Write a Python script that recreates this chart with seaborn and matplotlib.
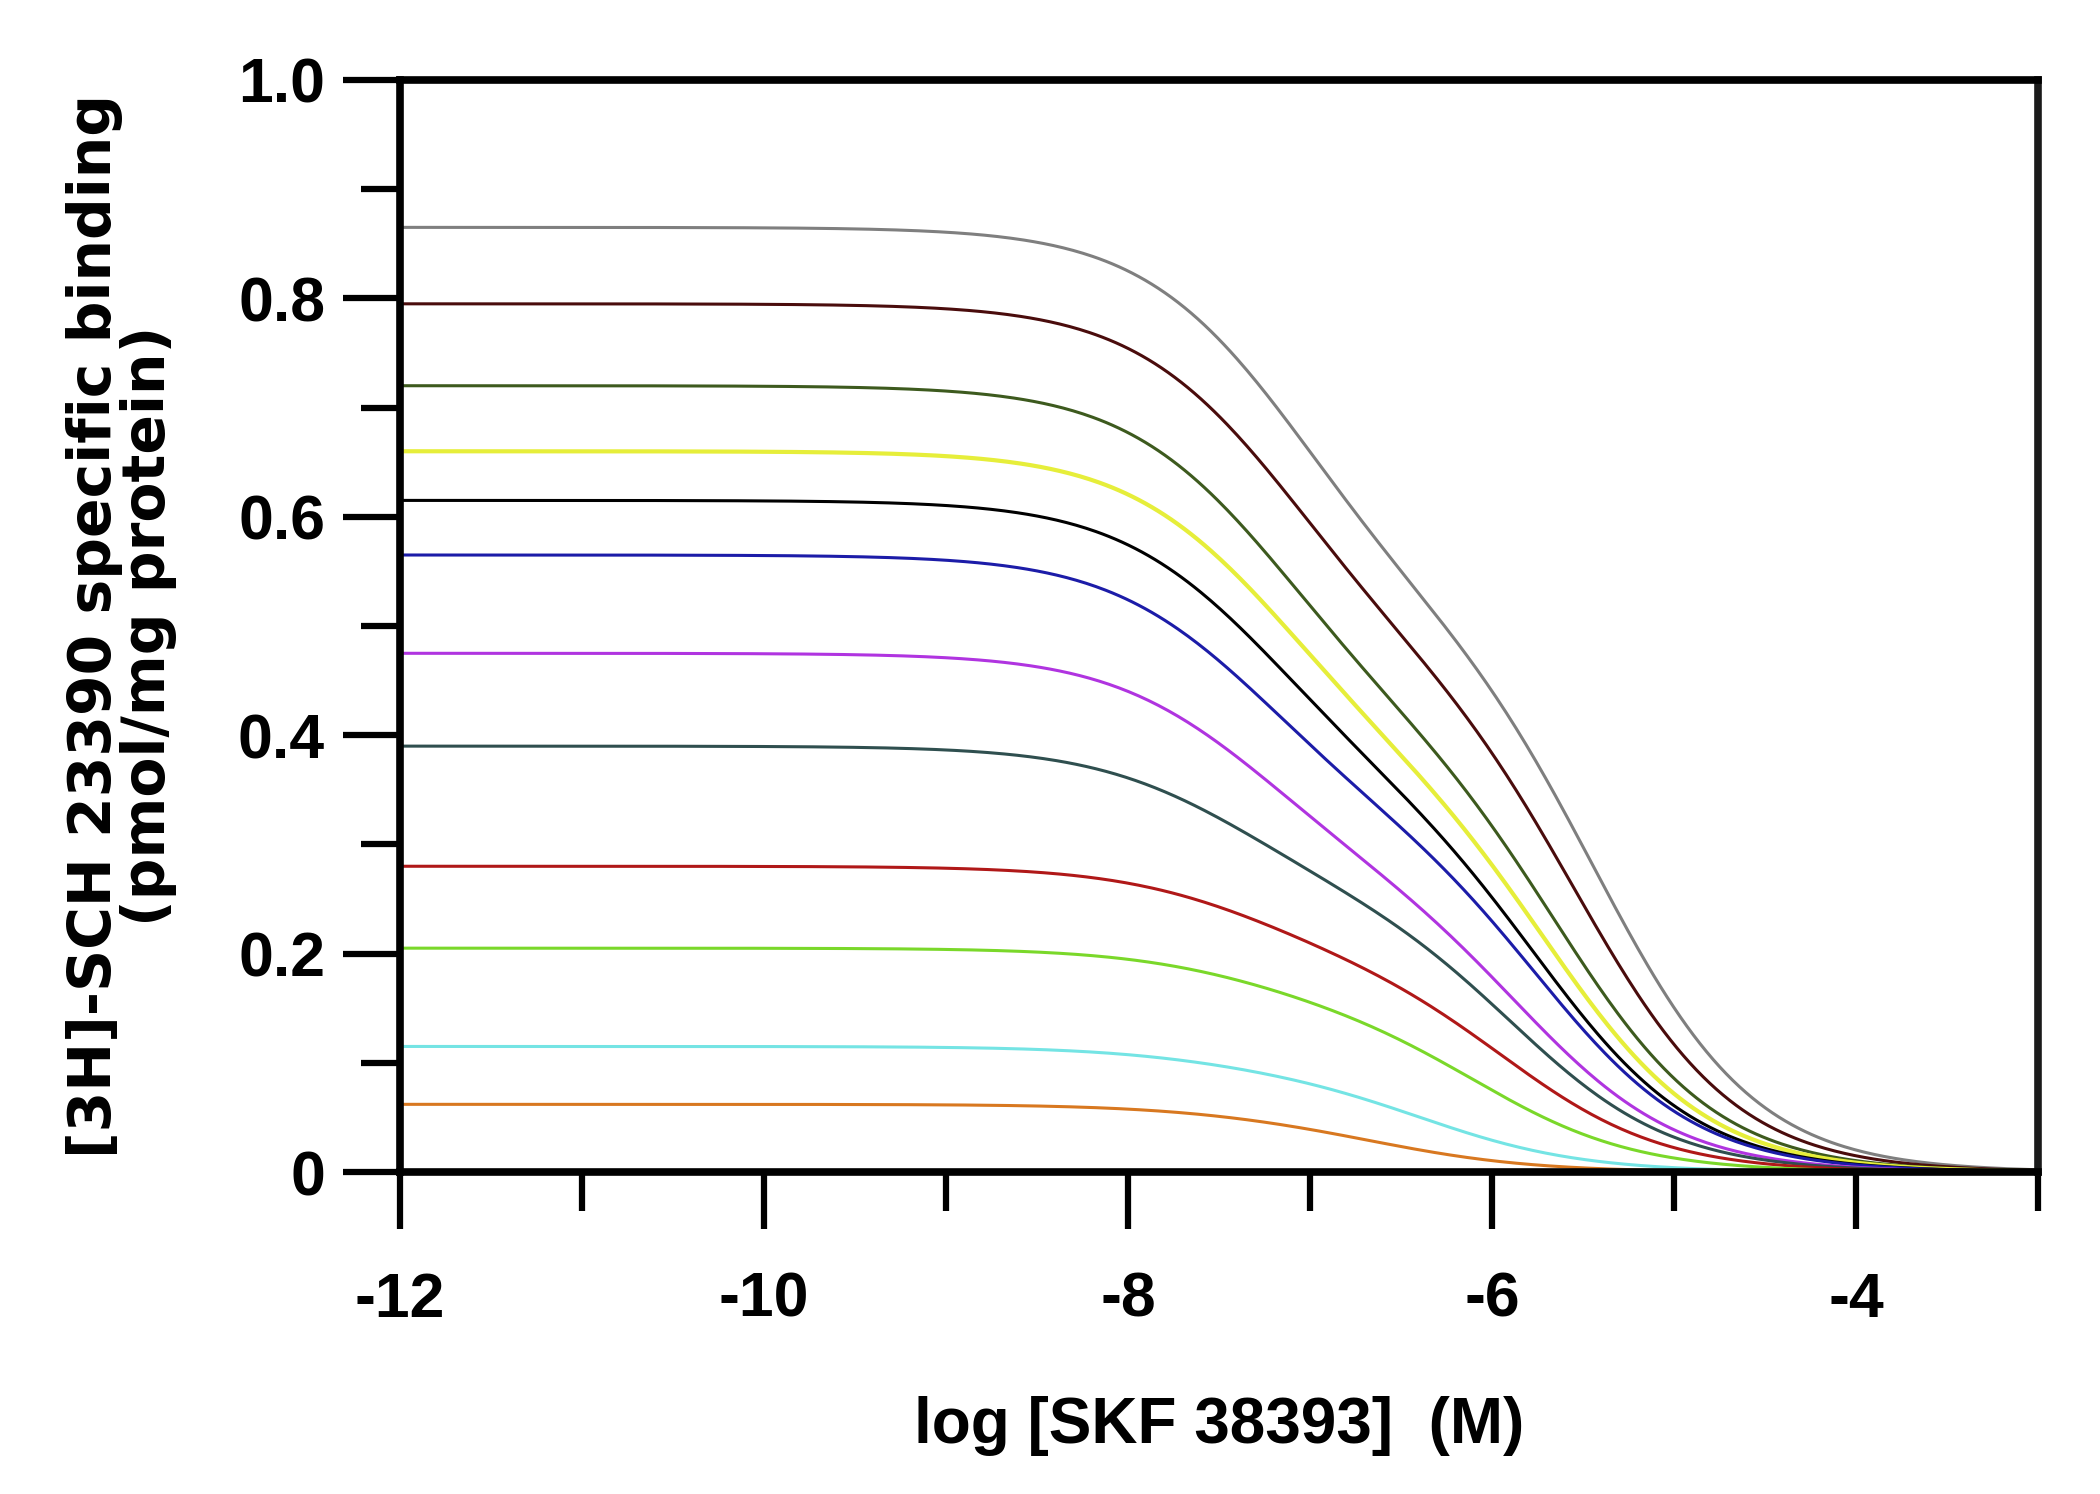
import numpy as np
import pandas as pd
import matplotlib
matplotlib.use("Agg")
import matplotlib.pyplot as plt
import seaborn as sns
from matplotlib.ticker import MultipleLocator

# curve parameters (two-site competition fits)
names = ["c1", "c2", "c3", "c4", "c5", "c6", "c7", "c8", "c9", "c10", "c11", "c12"]
top = [0.865, 0.795, 0.72, 0.66, 0.615, 0.565, 0.475, 0.39, 0.28, 0.205, 0.115, 0.062]
frac_high = [0.40, 0.40, 0.42, 0.42, 0.42, 0.42, 0.42, 0.35, 0.30, 0.25, 0.20, 0.20]
log_ic_high = [-7.10, -7.15, -7.20, -7.20, -7.25, -7.30, -7.30, -7.40, -7.30, -7.30, -7.50, -7.40]
log_ic_low = [-5.40, -5.50, -5.60, -5.65, -5.70, -5.70, -5.80, -5.85, -5.90, -6.05, -6.35, -6.60]
colors = ["#7f7f7f", "#4a0c0c", "#3d5a1e", "#e6ee3a", "#000000", "#1c1ca8",
          "#b034e0", "#2f4f4f", "#b01818", "#7ad82a", "#74e4e4", "#d87820"]

x_ticks = [-12, -10, -8, -6, -4]
y_ticks = [0, 0.2, 0.4, 0.6, 0.8, 1.0]
y_labels = ["0", "0.2", "0.4", "0.6", "0.8", "1.0"]

x = np.linspace(-12, -3, 500)
rows = []
for n, b, f, k1, k2 in zip(names, top, frac_high, log_ic_high, log_ic_low):
    y = b * (f / (1 + 10 ** (x - k1)) + (1 - f) / (1 + 10 ** (x - k2)))
    rows.append(pd.DataFrame({"logc": x, "binding": y, "curve": n}))
df = pd.concat(rows, ignore_index=True)

sns.set_style("white")
plt.rcParams["font.family"] = ["Liberation Sans", "DejaVu Sans"]
plt.rcParams["font.weight"] = "bold"
plt.rcParams["text.color"] = "black"
plt.rcParams["axes.labelcolor"] = "black"

fig = plt.figure(figsize=(21, 14.94), dpi=100)
ax = fig.add_axes([0.1905, 0.2155, 0.78, 0.731])

sns.lineplot(data=df, x="logc", y="binding", hue="curve", palette=colors,
             linewidth=2.2, legend=False, ax=ax)
ax.lines[3].set_linewidth(3.0)

ax.set_xlim(-12, -3)
ax.set_ylim(0, 1.0)
ax.set_xticks(x_ticks)
ax.set_xticklabels([str(v) for v in x_ticks])
ax.set_yticks(y_ticks)
ax.set_yticklabels(y_labels)
ax.xaxis.set_minor_locator(MultipleLocator(1))
ax.yaxis.set_minor_locator(MultipleLocator(0.1))

ax.tick_params(axis="both", which="both", bottom=True, left=True, top=False, right=False,
               direction="out", width=4.5, color="black", labelcolor="black")
ax.tick_params(axis="both", which="major", length=41, labelsize=45)
ax.tick_params(axis="both", which="minor", length=28)
ax.tick_params(axis="x", which="major", pad=30)
ax.tick_params(axis="y", which="major", pad=13)
for lab in ax.get_xticklabels() + ax.get_yticklabels():
    lab.set_fontweight("bold")

for side in ["left", "bottom", "top", "right"]:
    ax.spines[side].set_visible(True)
    ax.spines[side].set_color("black")
    ax.spines[side].set_linewidth(5.5)
ax.spines["right"].set_color("#1a1a1a")

ax.set_xlabel("log [SKF 38393]  (M)", fontsize=46, fontweight="bold")
ax.xaxis.set_label_coords(0.5, -0.205)
ax.set_ylabel("[3H]-SCH 23390 specific binding\n(pmol/mg protein)", fontsize=42,
              fontweight="bold", family=["DejaVu Sans"], linespacing=0.95)
ax.yaxis.set_label_coords(-0.136, 0.5)

fig.savefig("out.png", dpi=100, facecolor="white")
